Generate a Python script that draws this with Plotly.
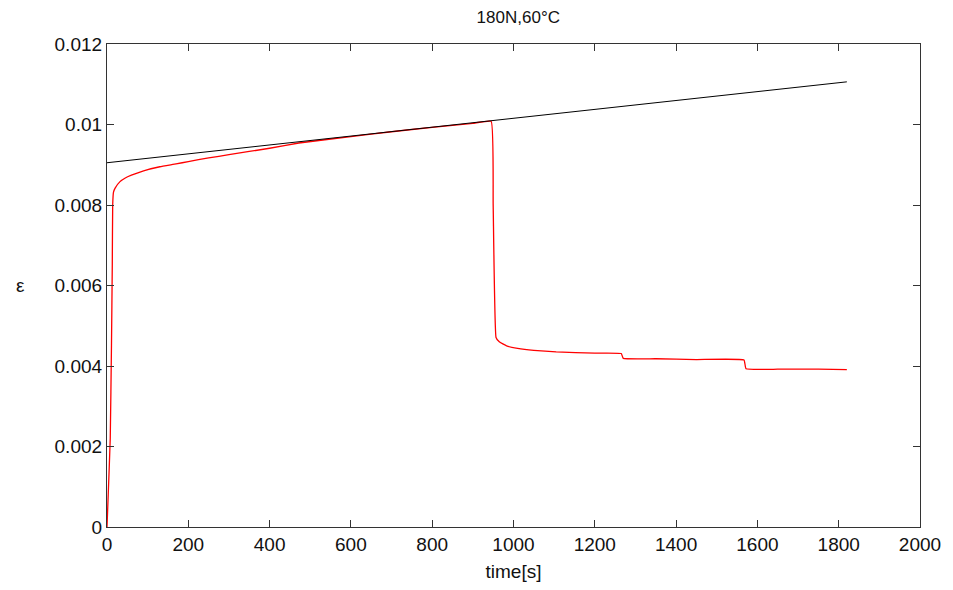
import plotly.graph_objects as go

# strain curve (red)
time_s = [0, 3, 8, 11, 13, 14, 16, 20, 32, 45, 60, 90, 130, 170, 200, 250,
          300, 400, 472, 600, 700, 800, 900, 945, 950, 957, 965, 983, 1010,
          1050, 1105, 1200, 1265, 1270, 1350, 1450, 1567, 1572, 1650, 1750, 1820]
strain = [0, 0.0008, 0.0022, 0.0045, 0.0065, 0.0080, 0.00832, 0.00842,
          0.00858, 0.00867, 0.00874, 0.00885, 0.00895, 0.00902, 0.00908,
          0.00917, 0.00925, 0.00941, 0.00954, 0.00970, 0.00982, 0.00993,
          0.01003, 0.01008, 0.0080, 0.00471, 0.00460, 0.00450, 0.00444,
          0.00439, 0.00435, 0.00432, 0.00431, 0.00419, 0.00418, 0.00416,
          0.00415, 0.00393, 0.00392, 0.00392, 0.00391]

# straight reference line (black)
line_t = [0, 1820]
line_eps = [0.00905, 0.01106]

x_ticks = [0, 200, 400, 600, 800, 1000, 1200, 1400, 1600, 1800, 2000]
y_ticks = [0, 0.002, 0.004, 0.006, 0.008, 0.01, 0.012]
y_labels = ['0', '0.002', '0.004', '0.006', '0.008', '0.01', '0.012']

FONT = 'Liberation Sans, Arial, Helvetica, sans-serif'
TXT = '#111111'

# page body has an 8px margin, so the figure is sized/offset to compensate
W, H = 945, 582

fig = go.Figure()
fig.add_trace(go.Scatter(x=time_s, y=strain, mode='lines',
                         line=dict(color='#ff0000', width=1.3, shape='spline', smoothing=0.3)))
fig.add_trace(go.Scatter(x=line_t, y=line_eps, mode='lines',
                         line=dict(color='black', width=1)))

axis_common = dict(showgrid=False, zeroline=False, showline=True,
                   linecolor='#333333', linewidth=1.2, mirror='allticks',
                   ticks='inside', ticklen=7, tickcolor='#333333',
                   tickfont=dict(family=FONT, size=19, color=TXT))

fig.update_xaxes(range=[0, 2000], tickvals=x_ticks, **axis_common,
                 title=dict(text='time[s]', font=dict(family=FONT, size=19, color=TXT),
                            standoff=10))
fig.update_yaxes(range=[0, 0.012], tickvals=y_ticks, ticktext=y_labels, **axis_common)

fig.add_annotation(text='ε', xref='paper', yref='paper', x=-0.115, y=0.5,
                   showarrow=False, font=dict(family=FONT, size=19, color=TXT))

fig.update_layout(
    width=W, height=H,
    margin=dict(l=99, r=22, t=36, b=63),
    plot_bgcolor='white', paper_bgcolor='white',
    showlegend=False,
    title=dict(text='180N,60°C', x=0.54, xanchor='center',
               y=1 - 3 / H, yanchor='top', pad=dict(t=0),
               font=dict(family=FONT, size=17, color=TXT)),
)

fig.write_html('out.html')
